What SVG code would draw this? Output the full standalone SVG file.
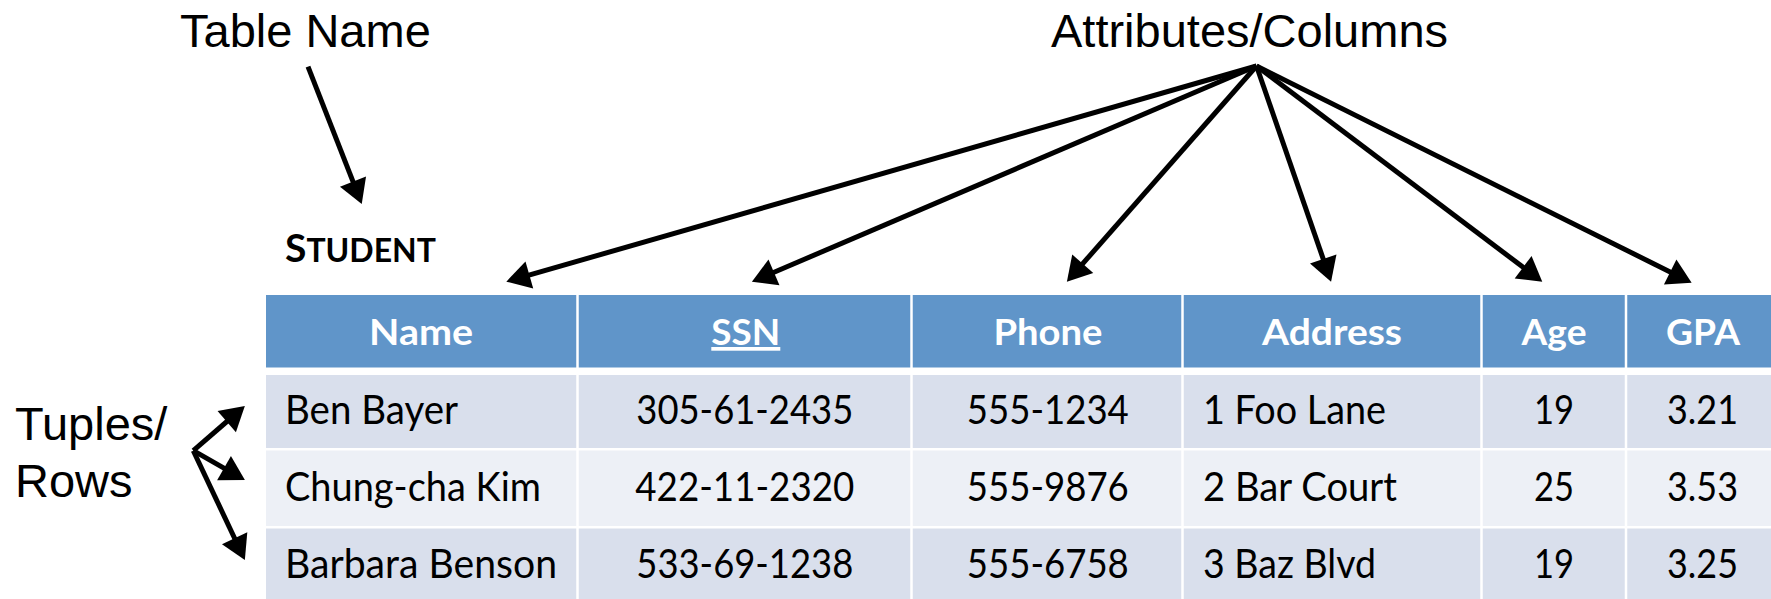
<svg xmlns="http://www.w3.org/2000/svg" width="1771" height="599" viewBox="0 0 1771 599">
<style>
.lbl{font-family:"Liberation Sans",Arial,sans-serif;font-size:47px;fill:#000}
.hd{font-family:Lato,"Open Sans",sans-serif;font-weight:bold;font-size:37px;fill:#fff;text-anchor:middle}
.cell{font-family:Lato,"Open Sans",sans-serif;font-size:40px;fill:#000}
.c{text-anchor:middle}
.conn line{stroke:#000;stroke-width:5;fill:none;marker-end:url(#ah)}
.sep{stroke:#fff;stroke-width:2.5}
</style>
<defs>
<marker id="ah" markerUnits="userSpaceOnUse" markerWidth="24" markerHeight="28" refX="14" refY="14" orient="auto" overflow="visible">
<path d="M0,0 L24,14 L0,28 Z" fill="#000"/>
</marker>
</defs>
<rect width="1771" height="599" fill="#fff"/>
<g id="label-table-name"><text class="lbl" x="180" y="47">Table Name</text></g>
<g id="label-attributes"><text class="lbl" x="1051" y="47">Attributes/Columns</text></g>
<g id="label-tuples"><text class="lbl" x="15" y="440">Tuples/</text><text class="lbl" x="15" y="497">Rows</text></g>
<g id="table-title"><text x="285" y="262" font-family="Lato,'Open Sans',sans-serif" font-weight="bold" fill="#000"><tspan font-size="39">S</tspan><tspan font-size="32">TUDENT</tspan></text></g>
<g id="student-table">
<rect x="266" y="295" width="1505" height="72.5" fill="#6095C9"/>
<rect x="266" y="375" width="1505" height="73" fill="#D9DFEC"/>
<rect x="266" y="450.5" width="1505" height="75.5" fill="#EDF0F6"/>
<rect x="266" y="528.5" width="1505" height="71" fill="#D9DFEC"/>
<line class="sep" x1="577.5" y1="295" x2="577.5" y2="599"/>
<line class="sep" x1="911.5" y1="295" x2="911.5" y2="599"/>
<line class="sep" x1="1182.5" y1="295" x2="1182.5" y2="599"/>
<line class="sep" x1="1481.5" y1="295" x2="1481.5" y2="599"/>
<line class="sep" x1="1626" y1="295" x2="1626" y2="599"/>
<text class="hd" x="421" y="345" textLength="104" lengthAdjust="spacingAndGlyphs">Name</text>
<text class="hd" x="745.8" y="345" text-decoration="underline" textLength="69" lengthAdjust="spacingAndGlyphs">SSN</text>
<text class="hd" x="1048" y="345" textLength="109" lengthAdjust="spacingAndGlyphs">Phone</text>
<text class="hd" x="1332" y="345" textLength="140" lengthAdjust="spacingAndGlyphs">Address</text>
<text class="hd" x="1554" y="345" textLength="65" lengthAdjust="spacingAndGlyphs">Age</text>
<text class="hd" x="1703" y="345" textLength="74" lengthAdjust="spacingAndGlyphs">GPA</text>
<text class="cell" x="285" y="424" textLength="173" lengthAdjust="spacingAndGlyphs">Ben Bayer</text>
<text class="cell c" x="744.8" y="424" textLength="217" lengthAdjust="spacingAndGlyphs">305-61-2435</text>
<text class="cell c" x="1047.8" y="424" textLength="162" lengthAdjust="spacingAndGlyphs">555-1234</text>
<text class="cell" x="1203" y="424" textLength="183" lengthAdjust="spacingAndGlyphs">1 Foo Lane</text>
<text class="cell c" x="1554" y="424" textLength="40" lengthAdjust="spacingAndGlyphs">19</text>
<text class="cell c" x="1702.5" y="424" textLength="71" lengthAdjust="spacingAndGlyphs">3.21</text>
<text class="cell" x="285" y="501" textLength="256" lengthAdjust="spacingAndGlyphs">Chung-cha Kim</text>
<text class="cell c" x="744.8" y="501" textLength="219" lengthAdjust="spacingAndGlyphs">422-11-2320</text>
<text class="cell c" x="1047.8" y="501" textLength="162" lengthAdjust="spacingAndGlyphs">555-9876</text>
<text class="cell" x="1203" y="501" textLength="194" lengthAdjust="spacingAndGlyphs">2 Bar Court</text>
<text class="cell c" x="1554" y="501" textLength="40" lengthAdjust="spacingAndGlyphs">25</text>
<text class="cell c" x="1702.5" y="501" textLength="71" lengthAdjust="spacingAndGlyphs">3.53</text>
<text class="cell" x="285" y="578" textLength="272" lengthAdjust="spacingAndGlyphs">Barbara Benson</text>
<text class="cell c" x="744.8" y="578" textLength="217" lengthAdjust="spacingAndGlyphs">533-69-1238</text>
<text class="cell c" x="1047.8" y="578" textLength="162" lengthAdjust="spacingAndGlyphs">555-6758</text>
<text class="cell" x="1203" y="578" textLength="173" lengthAdjust="spacingAndGlyphs">3 Baz Blvd</text>
<text class="cell c" x="1554" y="578" textLength="40" lengthAdjust="spacingAndGlyphs">19</text>
<text class="cell c" x="1702.5" y="578" textLength="71" lengthAdjust="spacingAndGlyphs">3.25</text>
</g>
<g id="connectors" class="conn">
<line x1="308" y1="66.7" x2="358.1" y2="194.7"/>
<line x1="1256.5" y1="66" x2="515.9" y2="278.9"/>
<line x1="1256.5" y1="66" x2="761.1" y2="277.8"/>
<line x1="1256.5" y1="66" x2="1073.5" y2="274.2"/>
<line x1="1256.5" y1="66" x2="1327.8" y2="272.2"/>
<line x1="1256.5" y1="66" x2="1534.3" y2="275.7"/>
<line x1="1256.5" y1="66" x2="1682.7" y2="278.2"/>
<line x1="193.3" y1="450.7" x2="237.3" y2="412.5"/>
<line x1="193.3" y1="450.7" x2="236.2" y2="475.1"/>
<line x1="193.3" y1="450.7" x2="240.6" y2="551"/>
</g>
</svg>
